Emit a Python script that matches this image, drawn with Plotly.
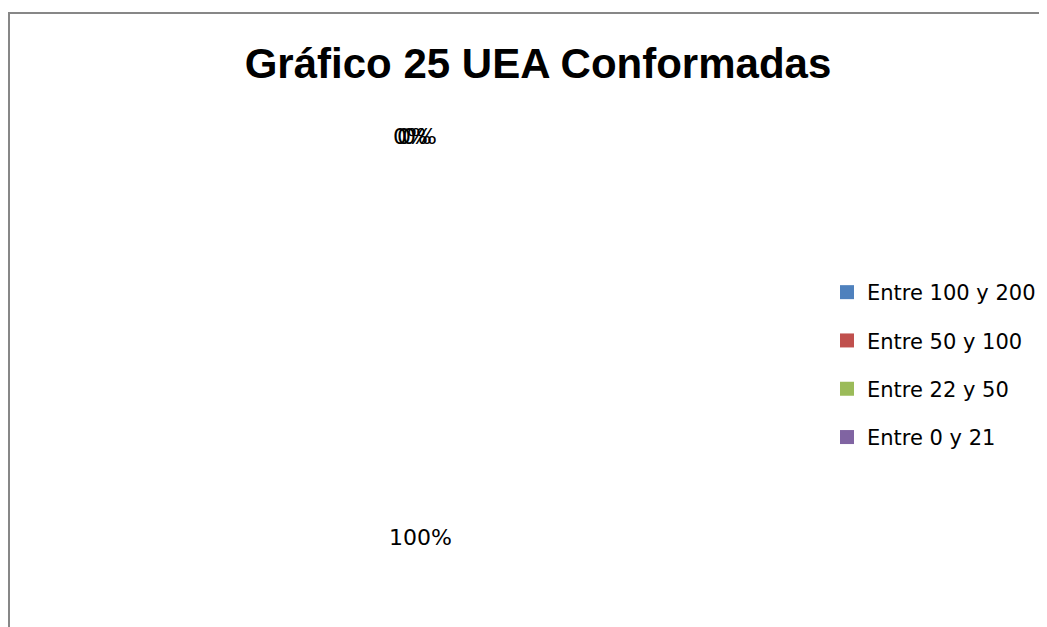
import math
import plotly.graph_objects as go

# ---- data ----
categories = ["Entre 100 y 200", "Entre 50 y 100", "Entre 22 y 50", "Entre 0 y 21"]
values = [0, 0, 0, 1]
colors = ["#4F81BD", "#C0504D", "#9BBB59", "#8064A2"]
title_text = "Gráfico 25 UEA Conformadas"

W, H = 1047, 627
cx, cy, R = 410, 329, 230        # pie centre / radius in pixels
label_r = 200                    # distance of the percentage labels from centre
zero_nudge = [-8, -4, 1]         # Excel overlaps the 0% labels with small offsets

fig = go.Figure()

# invisible pie (the reference shows no fill)
fig.add_trace(go.Pie(
    labels=categories, values=values, sort=False, direction="clockwise", rotation=0,
    marker=dict(colors=["rgba(255,255,255,0)"] * 4, line=dict(width=0)),
    textinfo="none", showlegend=False, hoverinfo="label+percent",
    domain=dict(x=[(cx - R) / W, (cx + R) / W], y=[1 - (cy + R) / H, 1 - (cy - R) / H]),
))

# legend entries
for i, (c, col) in enumerate(zip(categories, colors)):
    fig.add_trace(go.Scatter(
        x=[None], y=[None], mode="markers", name=c,
        marker=dict(symbol="square", size=14, color=col),
        legendgroup=f"g{i}",
    ))

# percentage labels from slice mid-angles
total = sum(values)
cum = 0
zi = 0
annotations = []
for i, v in enumerate(values):
    frac = v / total
    mid = (cum + frac / 2) * 2 * math.pi
    cum += frac
    px = cx + label_r * math.sin(mid)
    py = cy - label_r * math.cos(mid)
    shift = 0
    if v == 0:
        shift = zero_nudge[zi % len(zero_nudge)]
        zi += 1
    else:
        shift = 2
    annotations.append(dict(
        x=px / W, y=1 - py / H, xref="paper", yref="paper",
        text=f"{round(frac * 100)}%", showarrow=False, xshift=shift,
        font=dict(family="DejaVu Sans", size=22, color="black"),
        xanchor="center", yanchor="middle",
    ))

fig.update_layout(
    width=W, height=H,
    margin=dict(l=0, r=0, t=0, b=0),
    paper_bgcolor="white", plot_bgcolor="white",
    xaxis=dict(visible=False), yaxis=dict(visible=False),
    title=dict(text=f"<b>{title_text}</b>", x=530 / W, xanchor="center",
               y=1 - 55 / H, yanchor="middle",
               font=dict(family="Liberation Sans, Arial, sans-serif",
                         size=42, color="black")),
    legend=dict(x=819 / W, xanchor="left", y=1 - 357 / H, yanchor="middle",
                traceorder="grouped", tracegroupgap=18,
                font=dict(family="DejaVu Sans", size=21, color="black"),
                bgcolor="rgba(0,0,0,0)"),
    annotations=annotations,
    shapes=[dict(type="rect", xref="paper", yref="paper",
                 x0=1 / W, x1=1.05, y0=-0.05, y1=1 - 5 / H,
                 line=dict(color="#878787", width=2))],
)

fig.write_html("out.html")
